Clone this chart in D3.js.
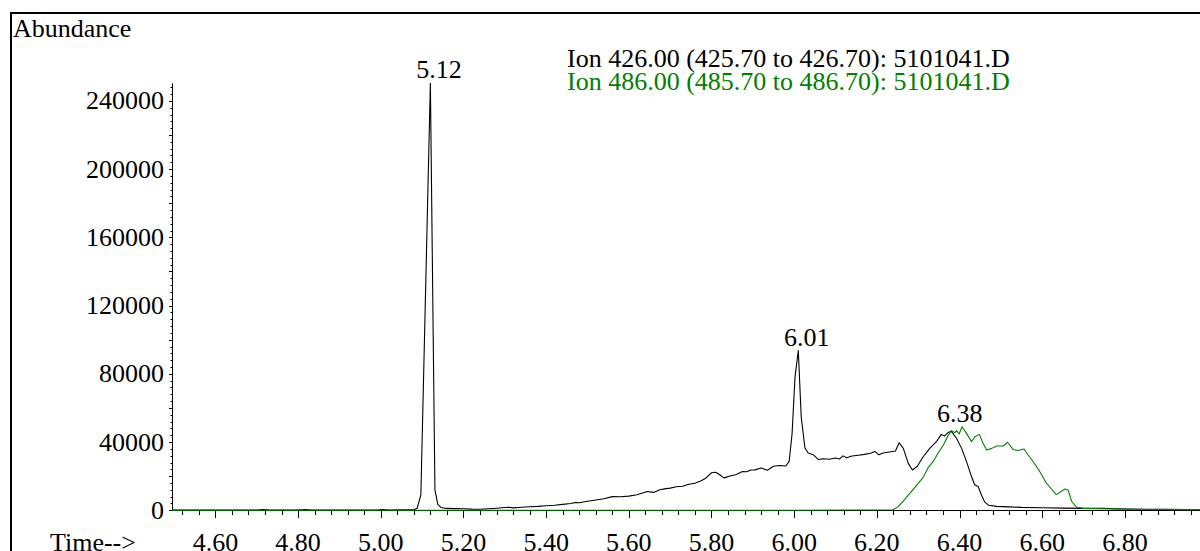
<!DOCTYPE html>
<html>
<head>
<meta charset="utf-8">
<script src="https://cdn.jsdelivr.net/npm/d3@7"></script>
<style>
  html, body { margin: 0; padding: 0; background: #fff; }
  svg { display: block; }
  text { font-family: "Liberation Serif", "Times New Roman", serif; }
</style>
</head>
<body>
<svg id="chart" width="1200" height="551"></svg>
<script>
// Extracted ion chromatogram, ions 426 and 486 (run 5101041.D)

// Ion 426.00 trace: retention time (min) and abundance
const ion426Time = [
  4.495, 4.55, 4.60, 4.65, 4.70, 4.715, 4.73, 4.80, 4.817, 4.835, 4.90, 4.95, 4.99, 5.005, 5.02,
  5.06, 5.08, 5.088, 5.097, 5.12, 5.131, 5.138, 5.146, 5.158, 5.18, 5.20, 5.22, 5.24, 5.26, 5.28,
  5.30, 5.31, 5.32, 5.34, 5.36, 5.38, 5.40, 5.42, 5.44, 5.46, 5.47, 5.48, 5.50, 5.52, 5.54,
  5.56, 5.58, 5.60, 5.62, 5.645, 5.66, 5.675, 5.69, 5.70, 5.715, 5.73, 5.745, 5.76, 5.775, 5.785,
  5.80, 5.81, 5.82, 5.83, 5.845, 5.86, 5.875, 5.885, 5.895, 5.905, 5.92, 5.935, 5.95, 5.965, 5.98,
  5.988, 5.995, 6.002, 6.01, 6.017, 6.026, 6.034, 6.046, 6.058, 6.07, 6.085, 6.10, 6.11, 6.118, 6.127,
  6.14, 6.155, 6.17, 6.185, 6.195, 6.205, 6.215, 6.23, 6.245, 6.254, 6.264, 6.276, 6.286, 6.298, 6.312,
  6.328, 6.344, 6.356, 6.364, 6.372, 6.38, 6.393, 6.405, 6.417, 6.429, 6.437, 6.445, 6.453, 6.461, 6.47,
  6.49, 6.52, 6.55, 6.60, 6.65, 6.70, 6.75, 6.80, 6.85, 6.90, 6.95, 7.00
];
const ion426Abundance = [
  100, 150, 100, 150, 150, 400, 150, 150, 450, 150, 200, 150, 200, 500, 200,
  250, 300, 1200, 9000, 250300, 12000, 3500, 1600, 1100, 1000, 900, 700, 650, 900, 1200,
  1600, 1800, 1400, 1800, 2100, 2300, 2700, 3000, 3500, 4000, 4600, 4400, 5300, 6000, 6800,
  8000, 7900, 8300, 9100, 11000, 10500, 12000, 12700, 13000, 13800, 14100, 15300, 15900, 17300, 18600,
  22000, 22300, 20800, 19000, 20100, 21000, 22700, 22600, 23600, 23700, 24800, 23500, 25800, 26300, 26000,
  28800, 45000, 78000, 93600, 55000, 36500, 33600, 32600, 29800, 30200, 29900, 30700, 30100, 31900, 30800,
  31800, 32300, 32800, 33400, 34500, 32500, 33600, 34200, 34800, 39600, 36300, 27500, 23600, 25800, 31400,
  36300, 40200, 44500, 43600, 45600, 46400, 42100, 36300, 28500, 19700, 14800, 13900, 9000, 4800, 3000,
  2300, 2000, 1700, 1500, 1300, 1100, 1100, 800, 600, 600, 500, 500
];

// Ion 486.00 trace
const ion486Time = [
  4.495, 5.00, 5.50, 6.00, 6.239, 6.251, 6.264, 6.276, 6.288, 6.300, 6.312, 6.324, 6.336, 6.348, 6.361,
  6.373, 6.381, 6.389, 6.393, 6.399, 6.406, 6.417, 6.429, 6.437, 6.448, 6.457, 6.466, 6.478, 6.490, 6.506,
  6.516, 6.53, 6.542, 6.556, 6.566, 6.578, 6.594, 6.61, 6.634, 6.655, 6.663, 6.671, 6.683, 6.70, 6.74,
  6.80, 6.85, 6.95, 7.00
];
const ion486Abundance = [
  50, 50, 50, 50, 300, 2000, 5400, 8900, 12300, 15800, 19300, 25000, 28500, 33400, 38300,
  44100, 46700, 45500, 46700, 44700, 49000, 45100, 40200, 43100, 44500, 39200, 35300, 36300, 37700, 37700,
  39900, 35600, 35000, 35900, 32400, 28600, 22800, 16000, 9200, 12500, 11700, 5300, 1900, 1100, 900,
  700, 500, 400, 400
];

// Labelled peak apex times
const peakTimes = [5.12, 6.01, 6.38];

// Axis ticks
const yTickValues = [0, 40000, 80000, 120000, 160000, 200000, 240000];
const xTickValues = [4.60, 4.80, 5.00, 5.20, 5.40, 5.60, 5.80, 6.00, 6.20, 6.40, 6.60, 6.80];

const legendLabels = [
  "Ion 426.00 (425.70 to 426.70): 5101041.D",
  "Ion 486.00 (485.70 to 486.70): 5101041.D"
];
const seriesColors = ["#000000", "#008000"];

const svg = d3.select("#chart");
const FONT = 26;

const x = d3.scaleLinear().domain([4.495, 7.0]).range([172, 172 + 2.505 * 413.4]);
const y = d3.scaleLinear().domain([0, 250300]).range([510.3, 83.3]);

// outer frame
svg.append("path")
  .attr("d", "M11,560 L11,13 L1210,13")
  .attr("fill", "none").attr("stroke", "#000").attr("stroke-width", 2);

svg.append("text").attr("x", 13).attr("y", 37)
  .attr("font-size", FONT).text("Abundance");

// y axis: major every 40000, mid every 20000, minor every 4000
const yAxisG = svg.append("g");
yAxisG.append("line")
  .attr("x1", 172.5).attr("x2", 172.5)
  .attr("y1", y(0)).attr("y2", y(250300))
  .attr("stroke", "#000").attr("stroke-width", 1);
const yMinor = d3.range(0, 250001, 4000);
yAxisG.selectAll("line.tick").data(yMinor).join("line")
  .attr("class", "tick")
  .attr("x1", d => (d % 20000 === 0) ? 169 : 170.5).attr("x2", 172.5)
  .attr("y1", d => Math.round(y(d)) + 0.5).attr("y2", d => Math.round(y(d)) + 0.5)
  .attr("stroke", "#000").attr("stroke-width", 1);
yAxisG.selectAll("text").data(yTickValues).join("text")
  .attr("x", 164).attr("y", d => y(d) + 8.6)
  .attr("text-anchor", "end").attr("font-size", FONT)
  .text(d => d3.format("d")(d));

// x axis: major every 0.2, minor every 0.04
const xAxisG = svg.append("g");
xAxisG.append("line")
  .attr("x1", 172).attr("x2", 1210)
  .attr("y1", 510.5).attr("y2", 510.5)
  .attr("stroke", "#000").attr("stroke-width", 1);
const xMinor = d3.range(4.52, 7.0, 0.04).map(v => +v.toFixed(2));
xAxisG.selectAll("line.tick").data(xMinor).join("line")
  .attr("class", "tick")
  .attr("x1", d => Math.round(x(d)) + 0.5).attr("x2", d => Math.round(x(d)) + 0.5)
  .attr("y1", 510.5)
  .attr("y2", d => xTickValues.some(t => Math.abs(t - d) < 1e-6) ? 518 : 515)
  .attr("stroke", "#000").attr("stroke-width", 1);
xAxisG.selectAll("text").data(xTickValues).join("text")
  .attr("x", d => x(d)).attr("y", 550.5)
  .attr("text-anchor", "middle").attr("font-size", FONT)
  .text(d => d.toFixed(2));
svg.append("text").attr("x", 50).attr("y", 550.5)
  .attr("font-size", FONT).text("Time-->");

// traces
const line = d3.line().x(d => x(d[0])).y(d => y(d[1]));
const series = [
  d3.zip(ion426Time, ion426Abundance),
  d3.zip(ion486Time, ion486Abundance)
];
svg.append("g").selectAll("path").data(series).join("path")
  .attr("d", line)
  .attr("fill", "none")
  .attr("stroke", (d, i) => seriesColors[i])
  .attr("stroke-width", 1.1)
  .attr("stroke-linejoin", "round");

// peak labels, placed just above the highest trace near each apex
peakTimes.forEach(t => {
  let top = 0;
  series.forEach(s => s.forEach(([tt, v]) => {
    if (Math.abs(tt - t) <= 0.03 && v > top) top = v;
  }));
  svg.append("text")
    .attr("x", x(t) + 8.5).attr("y", y(top) - 5)
    .attr("text-anchor", "middle").attr("font-size", FONT)
    .text(t.toFixed(2));
});

// legend
svg.append("g").selectAll("text").data(legendLabels).join("text")
  .attr("x", 567).attr("y", (d, i) => 67 + i * 23)
  .attr("font-size", FONT)
  .attr("fill", (d, i) => seriesColors[i])
  .text(d => d);
</script>
</body>
</html>
